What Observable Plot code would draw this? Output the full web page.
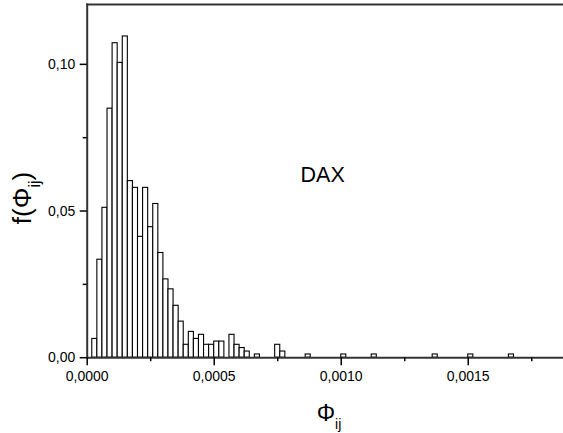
<!DOCTYPE html>
<html><head><meta charset="utf-8">
<script src="https://cdn.jsdelivr.net/npm/d3@7"></script>
<script src="https://cdn.jsdelivr.net/npm/@observablehq/plot@0.6"></script>
<style>body{margin:0;background:#fff} svg{display:block}</style>
</head><body><div id="chart"></div>
<script>
// bin width of the histogram (Phi_ij)
const binWidth = 0.00002;
// bin index (bin k covers [k*binWidth, (k+1)*binWidth])
const binIndex = [1,2,3,4,5,6,7,8,9,10,11,12,13,14,15,16,17,18,19,20,21,22,23,24,25,26,28,29,30,31,33,37,38,43,50,56,68,75,83];
// relative frequency f(Phi_ij)
const freq = [0.0064,0.0334,0.0511,0.0849,0.1072,0.1005,0.1095,0.0602,0.0579,0.0412,
              0.0579,0.0445,0.0524,0.0357,0.0267,0.0233,0.0177,0.0123,0.0044,0.0088,
              0.0064,0.0078,0.0044,0.0044,0.0055,0.0055,0.0078,0.0044,0.0033,0.0021,
              0.0011,0.0044,0.0021,0.0011,0.0011,0.0011,0.0011,0.0011,0.0011];
const xMajorTicks = [0, 0.0005, 0.0010, 0.0015];
const xMinorTicks = [0.00025, 0.00075, 0.00125, 0.00175];
const yMajorTicks = [0, 0.05, 0.10];
const yMinorTicks = [0.025, 0.075];
const xDomain = [0, 0.001875];
const yDomain = [0, 0.1204];
const annotation = [{x: 0.00084, y: 0.060, text: "DAX"}];

const bins = binIndex.map((k, i) => ({x1: k * binWidth, x2: (k + 1) * binWidth, y: freq[i]}));
const comma = (d, n) => d.toFixed(n).replace(".", ",");

const chart = Plot.plot({
  width: 563, height: 433,
  marginLeft: 86.7, marginRight: 0, marginTop: 4, marginBottom: 75.8,
  x: {domain: xDomain},
  y: {domain: yDomain},
  style: {fontFamily: "Arial, 'Liberation Sans', sans-serif", fontSize: "14px", color: "#000", background: "#fff"},
  marks: [
    Plot.rectY(bins, {x1: "x1", x2: "x2", y: "y", fill: "#fff", stroke: "#000", strokeWidth: 1.1}),
    Plot.frame({anchor: "top", stroke: "#333", strokeWidth: 2}),
    Plot.frame({anchor: "left", stroke: "#333", strokeWidth: 2}),
    Plot.frame({anchor: "bottom", stroke: "#333", strokeWidth: 2}),
    Plot.axisX({ticks: xMajorTicks, tickSize: 8, tickPadding: 5, tickFormat: d => comma(d, 4), label: null, strokeWidth: 1.5, fontSize: 14}),
    Plot.axisX({ticks: xMinorTicks, tickSize: 4, tickFormat: () => "", label: null, strokeWidth: 1.5}),
    Plot.axisY({ticks: yMajorTicks, tickSize: 7, tickPadding: 5, tickFormat: d => comma(d, 2), label: null, strokeWidth: 1.5, fontSize: 14}),
    Plot.axisY({ticks: yMinorTicks, tickSize: 4, tickFormat: () => "", label: null, strokeWidth: 1.5}),
    Plot.text(annotation, {x: "x", y: "y", text: "text", textAnchor: "start", lineAnchor: "bottom", fontSize: 21.5, fill: "#000"})
  ]
});
document.getElementById("chart").append(chart);

const svg = d3.select(chart);
const fam = "Arial, 'Liberation Sans', sans-serif";
// x axis title: Φ_ij
const xt = svg.append("text").attr("x", 329).attr("y", 421).attr("text-anchor", "middle")
  .attr("font-family", fam).attr("font-size", 23).attr("fill", "#000");
xt.append("tspan").text("Φ");
xt.append("tspan").attr("dy", 8).attr("font-size", 14).text("ij");
// y axis title: f(Φ_ij)
const yt = svg.append("text").attr("transform", "translate(31,198) rotate(-90)").attr("text-anchor", "middle")
  .attr("font-family", fam).attr("font-size", 26).attr("fill", "#000");
yt.append("tspan").text("f(Φ");
yt.append("tspan").attr("dy", 9).attr("font-size", 16).text("ij");
yt.append("tspan").attr("dy", -9).text(")");
</script></body></html>
